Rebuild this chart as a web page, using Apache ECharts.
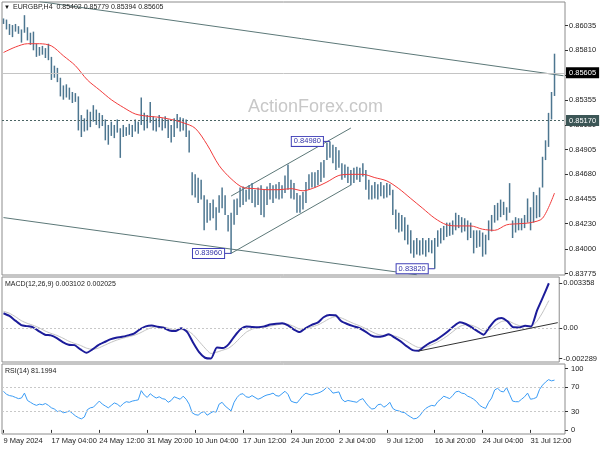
<!DOCTYPE html>
<html><head><meta charset="utf-8">
<script src="https://cdn.jsdelivr.net/npm/echarts@6/dist/echarts.min.js"></script>
<style>html,body{margin:0;padding:0;background:#fff}#c{width:600px;height:450px}</style>
</head><body><div id="c"></div>
<script>
// ---- data (8-hour columns, each column = two H4 bars) ----
const highs = [0.8610,0.8609,0.8605,0.8604,0.8605,0.8603,0.8600,0.8613,0.8602,0.8597,
0.8598,0.8587,0.8584,0.8585,0.8583,0.8587,0.8575,0.8567,0.8565,0.8556,
0.8549,0.8550,0.8547,0.8543,0.8542,0.8539,0.8522,0.8519,0.8527,0.8525,
0.8531,0.8527,0.8524,0.8522,0.8518,0.8513,0.8516,0.8513,0.8518,0.8510,
0.8513,0.8511,0.8514,0.8513,0.8518,0.8516,0.8538,0.8524,0.8522,0.8534,
0.8521,0.8519,0.8522,0.8519,0.8521,0.8518,0.8513,0.8519,0.8523,0.8520,
0.8519,0.8518,0.8508,0.8470,0.8468,0.8465,0.8463,0.8449,0.8445,0.8442,
0.8445,0.8438,0.8449,0.8456,0.8449,0.8431,0.8433,0.8445,0.8446,0.8456,
0.8457,0.8454,0.8458,0.8460,0.8454,0.8456,0.8458,0.8454,0.8457,0.8460,
0.8458,0.8459,0.8461,0.8458,0.8467,0.8477,0.8463,0.8460,0.8451,0.8449,
0.8452,0.8461,0.8468,0.8470,0.8470,0.8472,0.8479,0.8481,0.8497,0.8498,
0.8495,0.8493,0.8490,0.8478,0.8477,0.8475,0.8472,0.8474,0.8475,0.8474,
0.8478,0.8472,0.8463,0.8458,0.8461,0.8459,0.8461,0.8458,0.8460,0.8459,
0.8454,0.8436,0.8433,0.8431,0.8429,0.8422,0.8417,0.8408,0.8410,0.8408,
0.8410,0.8408,0.8410,0.8408,0.8410,0.8417,0.8419,0.8421,0.8424,0.8424,
0.8426,0.8433,0.8431,0.8429,0.8428,0.8426,0.8424,0.8417,0.8417,0.8417,
0.8415,0.8413,0.8426,0.8431,0.8440,0.8442,0.8445,0.8443,0.8438,0.8460,
0.8426,0.8429,0.8428,0.8428,0.8431,0.8446,0.8438,0.8452,0.8449,0.8456,
0.8484,0.8499,0.8524,0.8543,0.85779];
const lows = [0.8605,0.8600,0.8595,0.8593,0.8598,0.8596,0.8588,0.8597,0.8590,0.8586,
0.8581,0.8575,0.8576,0.8577,0.8574,0.8572,0.8554,0.8556,0.8552,0.8539,
0.8536,0.8538,0.8536,0.8533,0.8534,0.8508,0.8502,0.8507,0.8508,0.8511,
0.8516,0.8513,0.8510,0.8512,0.8499,0.8495,0.8503,0.8501,0.8506,0.8483,
0.8502,0.8503,0.8504,0.8502,0.8507,0.8505,0.8513,0.8508,0.8510,0.8515,
0.8508,0.8507,0.8511,0.8508,0.8510,0.8501,0.8497,0.8502,0.8510,0.8507,
0.8508,0.8502,0.8488,0.8449,0.8447,0.8442,0.8445,0.8417,0.8424,0.8426,
0.8428,0.8417,0.8433,0.8437,0.8431,0.8416,0.8396,0.8422,0.8431,0.8438,
0.8440,0.8443,0.8445,0.8442,0.8438,0.8440,0.8431,0.8429,0.8440,0.8445,
0.8442,0.8446,0.8445,0.8446,0.8451,0.8454,0.8446,0.8445,0.8433,0.8433,
0.8436,0.8442,0.8454,0.8456,0.8456,0.8458,0.8461,0.8465,0.8481,0.8483,
0.8478,0.8472,0.8474,0.8463,0.8465,0.8460,0.8458,0.8460,0.8463,0.8461,
0.8466,0.8454,0.8445,0.8445,0.8446,0.8445,0.8448,0.8446,0.8447,0.8449,
0.8431,0.8418,0.8415,0.8416,0.8408,0.8404,0.8396,0.8392,0.8395,0.8394,
0.8395,0.8393,0.8397,0.8396,0.8382,0.8402,0.8405,0.8408,0.8411,0.8412,
0.8413,0.8417,0.8419,0.8415,0.8416,0.8408,0.8410,0.8396,0.8401,0.8402,
0.8393,0.8395,0.8408,0.8416,0.8424,0.8426,0.8429,0.8431,0.8426,0.8433,
0.8410,0.8415,0.8417,0.8417,0.8419,0.8424,0.8417,0.8424,0.8428,0.8429,
0.8456,0.8481,0.8493,0.8518,0.85394];
// moving average, read every 4th column
const maStep = 4;
const maValues = [0.8579,0.8584,0.8587,0.8587,0.8585,0.8576,0.8567,0.8554,0.8545,0.8536,
0.8529,0.8523,0.8521,0.8520,0.8518,0.8515,0.8510,0.8495,0.8476,0.8464,
0.8456,0.8455,0.8454,0.8454,0.8455,0.8453,0.8456,0.8461,0.8467,0.8468,
0.8468,0.8465,0.8462,0.8455,0.8446,0.8437,0.8428,0.8422,0.8421,0.8421,
0.8418,0.8417,0.8422,0.8423,0.8424,0.8428,0.8451];
// MACD main and signal, read every 2nd column
const macdStep = 2;
const macdMain = [0.00110,0.00090,0.00055,0.00022,0.00014,0.00005,-0.00025,-0.00050,-0.00055,-0.00075,
-0.00105,-0.00125,-0.00128,-0.00160,-0.00185,-0.00160,-0.00128,-0.00106,-0.00085,-0.00072,
-0.00066,-0.00055,-0.00042,-0.00010,0.00012,0.00018,0.00010,0.00002,-0.00018,-0.00022,
-0.00002,-0.00030,-0.00110,-0.00180,-0.00222,-0.00228,-0.00145,-0.00150,-0.00120,-0.00060,
-0.00010,0.00012,0.00008,0.00006,0.00012,0.00026,0.00032,0.00036,0.00020,-0.00012,
-0.00030,0.00000,0.00024,0.00040,0.00080,0.00097,0.00095,0.00050,0.00030,0.00014,
0.00000,-0.00025,-0.00055,-0.00066,-0.00062,-0.00047,-0.00072,-0.00100,-0.00135,-0.00165,
-0.00170,-0.00138,-0.00110,-0.00088,-0.00058,-0.00024,0.00015,0.00042,0.00030,0.00005,
-0.00025,-0.00050,0.00008,0.00060,0.00074,0.00050,0.00005,0.00004,0.00016,0.00012,
0.00130,0.00230,0.00334];
const macdSignal = [0.00125,0.00110,0.00085,0.00055,0.00035,0.00020,0.00002,-0.00022,-0.00040,-0.00055,
-0.00075,-0.00098,-0.00115,-0.00130,-0.00150,-0.00160,-0.00150,-0.00130,-0.00110,-0.00092,
-0.00078,-0.00066,-0.00055,-0.00038,-0.00015,0.00003,0.00010,0.00008,-0.00004,-0.00014,
-0.00012,-0.00018,-0.00050,-0.00100,-0.00150,-0.00190,-0.00180,-0.00165,-0.00150,-0.00115,
-0.00070,-0.00030,-0.00008,0.00002,0.00006,0.00014,0.00022,0.00030,0.00028,0.00012,
-0.00008,-0.00006,0.00008,0.00022,0.00045,0.00070,0.00085,0.00075,0.00055,0.00035,
0.00018,-0.00002,-0.00025,-0.00045,-0.00055,-0.00054,-0.00060,-0.00075,-0.00098,-0.00125,
-0.00145,-0.00145,-0.00130,-0.00110,-0.00085,-0.00055,-0.00020,0.00012,0.00025,0.00020,
0.00002,-0.00022,-0.00015,0.00020,0.00048,0.00055,0.00035,0.00018,0.00014,0.00013,
0.00050,0.00120,0.00205];
const rsiValues = [63,58,56,55,53,51,52,60,48,45,
42,40,42,41,43,40,36,34,30,31,
28,29,31,27,23,20,18,21,33,36,
37,42,47,42,39,36,40,44,42,38,
43,46,45,47,48,49,64,57,53,59,
55,52,54,51,50,45,48,54,52,50,
55,50,42,28,25,24,28,30,24,27,
30,29,42,45,39,35,31,45,53,58,
59,54,53,56,53,50,52,55,57,58,
60,56,55,59,63,58,47,45,44,50,
56,60,58,57,59,60,62,65,70,66,
60,61,62,50,46,48,47,46,45,49,
51,44,38,34,35,41,42,37,40,45,
35,32,31,29,28,24,21,18,19,23,
30,35,38,40,39,46,50,55,53,51,
56,62,63,60,59,55,53,50,46,40,
37,35,45,52,65,68,63,62,69,58,
47,46,46,50,54,60,50,51,53,66,
73,78,82,80,81.2];
const columnCount = 188;
const xTickEvery = 16;
const xTickLabels = ['9 May 2024','17 May 04:00','24 May 12:00','31 May 20:00','10 Jun 04:00','17 Jun 12:00','24 Jun 20:00','2 Jul 04:00','9 Jul 12:00','16 Jul 20:00','24 Jul 04:00','31 Jul 12:00'];
const priceTicks = [0.86035,0.85810,0.85580,0.85355,0.85130,0.84905,0.84680,0.84455,0.84230,0.84000,0.83775];
const macdTicks = [0.003358,0,-0.002289];
const macdTickText = ['0.003358','0.00','-0.002289'];
const rsiTicks = [100,70,30,0];
const rsiLevels = [70,30];
const bidPrice = 0.85605;
const levelPrice = 0.85170;
const annotIdx = [76,109,144];
const annotVal = [0.83960,0.84980,0.83820];
const upperChannel = [[12,0.86254],[187,0.85578]];
const lowerChannel = [[0,0.84286],[138,0.83765]];
const riseLower = [[76,0.83960],[116,0.84583]];
const riseUpper = [[76,0.84482],[116,0.85102]];
const macdTrend = [[140,-0.00172],[187,0.00040]];
const headerText = 'EURGBP,H4  0.85402 0.85779 0.85394 0.85605';
const macdText = 'MACD(12,26,9) 0.003102 0.002025';
const rsiText = 'RSI(14) 81.1994';

// ---- chart ----
const FONT = '"Liberation Sans", Arial, sans-serif';
const cats = Array.from({length: columnCount}, (_, i) => String(i));
const chart = echarts.init(document.getElementById('c'), null, {renderer: 'canvas'});
const frame = '#8c8c8c';
const trendColor = '#5c7878';
const grids = [
  {left: 2, top: 2, width: 563, height: 273},
  {left: 2, top: 277, width: 563, height: 85},
  {left: 2, top: 364, width: 563, height: 70}
].map(g => Object.assign(g, {show: true, borderColor: frame, borderWidth: 1, containLabel: false}));

function xAxis(gi, showLabels) {
  return {
    type: 'category', gridIndex: gi, data: cats, boundaryGap: true,
    axisLine: {show: false},
    axisTick: showLabels ? {show: true, alignWithLabel: true, length: 3, interval: i => i % xTickEvery === 0, lineStyle: {color: '#333'}} : {show: false},
    axisLabel: showLabels ? {show: true, interval: i => i % xTickEvery === 0, formatter: (v, i) => xTickLabels[i / xTickEvery] || '',
      align: 'left', fontSize: 7.5, fontFamily: FONT, color: '#222', margin: 3} : {show: false},
    splitLine: {show: false}
  };
}
function yAxis(gi, min, max, ticks, fmt, showLabels) {
  return {
    type: 'value', gridIndex: gi, position: 'right', min: min, max: max,
    axisLine: {show: false}, splitLine: {show: false},
    axisTick: {show: true, length: 3, customValues: ticks, lineStyle: {color: '#333'}},
    axisLabel: {show: showLabels, customValues: ticks, formatter: fmt, fontSize: 7.5, fontFamily: FONT, color: '#222', margin: 4,
      showMinLabel: true, showMaxLabel: true, hideOverlap: false}
  };
}

const series = [];
// price bars
series.push({
  type: 'custom', xAxisIndex: 0, yAxisIndex: 0, clip: true, z: 3,
  data: highs.map((h, i) => [i, lows[i], h]),
  encode: {x: 0, y: [1, 2]},
  renderItem: (params, api) => {
    const lo = api.coord([api.value(0), api.value(1)]);
    const hi = api.coord([api.value(0), api.value(2)]);
    return {type: 'line', shape: {x1: lo[0], y1: lo[1], x2: hi[0], y2: hi[1]},
      style: {stroke: '#4d7690', lineWidth: 1.5}};
  }
});
// MA with horizontal price levels
series.push({
  type: 'line', xAxisIndex: 0, yAxisIndex: 0, smooth: 0.3, symbol: 'none', z: 4,
  data: maValues.map((v, k) => [k * maStep, v]),
  lineStyle: {color: '#f23c3c', width: 1},
  markLine: {
    silent: true, symbol: ['none', 'none'], animation: false, precision: 5,
    data: [
      {yAxis: bidPrice, lineStyle: {color: '#c4c4c4', width: 1, type: 'solid'},
        label: {show: true, position: 'end', formatter: bidPrice.toFixed(5), distance: 1, backgroundColor: '#000', color: '#fff',
          padding: [2, 3, 1, 3], fontSize: 7.5, fontFamily: FONT}},
      {yAxis: levelPrice, lineStyle: {color: '#4a6464', width: 1, type: [2, 2]},
        label: {show: true, position: 'end', formatter: levelPrice.toFixed(5), distance: 1, backgroundColor: '#3c5656', color: '#fff',
          padding: [2, 3, 1, 3], fontSize: 7.5, fontFamily: FONT}}
    ]
  }
});
// trend lines
[upperChannel, lowerChannel, riseLower, riseUpper].forEach(d => series.push({
  type: 'line', xAxisIndex: 0, yAxisIndex: 0, symbol: 'none', clip: true, z: 2, data: d,
  lineStyle: {color: trendColor, width: 1}
}));
// swing annotations
series.push({
  type: 'custom', xAxisIndex: 0, yAxisIndex: 0, clip: false, z: 6,
  data: annotIdx.map((ix, k) => [ix, annotVal[k]]),
  renderItem: (params, api) => {
    const p = api.coord([api.value(0), api.value(1)]);
    return {type: 'group', children: [
      {type: 'line', shape: {x1: p[0] - 7, y1: p[1], x2: p[0], y2: p[1]}, style: {stroke: '#3a3ab0', lineWidth: 1}},
      {type: 'text', x: p[0] - 7, y: p[1], style: {text: annotVal[params.dataIndex].toFixed(5), align: 'right', verticalAlign: 'middle',
        font: '7.5px ' + FONT, fill: '#3232a8', backgroundColor: '#fff', borderColor: '#4040b8', borderWidth: 1, padding: [1, 2, 0, 2]}}
    ]};
  }
});
// MACD
series.push({
  type: 'line', xAxisIndex: 1, yAxisIndex: 1, symbol: 'none', smooth: 0.2, z: 3,
  data: macdSignal.map((v, k) => [k * macdStep, v]),
  lineStyle: {color: '#c2c2c2', width: 1}
});
series.push({
  type: 'line', xAxisIndex: 1, yAxisIndex: 1, symbol: 'none', smooth: 0.2, z: 4,
  data: macdMain.map((v, k) => [k * macdStep, v]),
  lineStyle: {color: '#1c1c9a', width: 2},
  markLine: {silent: true, symbol: ['none', 'none'], animation: false, label: {show: false}, precision: 6,
    data: [{yAxis: 0, lineStyle: {color: '#c8c8c8', width: 1, type: [2, 2]}}]}
});
series.push({
  type: 'line', xAxisIndex: 1, yAxisIndex: 1, symbol: 'none', z: 5, data: macdTrend,
  lineStyle: {color: '#333', width: 1}
});
// RSI with 70/30 levels
series.push({
  type: 'line', xAxisIndex: 2, yAxisIndex: 2, symbol: 'none', z: 4,
  data: rsiValues,
  lineStyle: {color: '#3a9cf6', width: 1},
  markLine: {silent: true, symbol: ['none', 'none'], animation: false, precision: 2, label: {show: false},
    data: rsiLevels.map(v => ({yAxis: v, lineStyle: {color: '#c8c8c8', width: 1, type: [2, 2]}}))}
});

const txt = (left, top, text, font, fill, z) => ({type: 'text', left: left, top: top, z: z || 10,
  style: {text: text, font: font, fill: fill}});

chart.setOption({
  animation: false,
  backgroundColor: '#fff',
  grid: grids,
  xAxis: [xAxis(0, false), xAxis(1, false), xAxis(2, true)],
  yAxis: [
    yAxis(0, 0.83763, 0.86250, priceTicks, v => v.toFixed(5), true),
    yAxis(1, -0.002537, 0.003806, macdTicks, v => macdTickText[macdTicks.indexOf(v)] || '', true),
    yAxis(2, -6.7, 107.5, rsiTicks, v => String(v), false)
  ],
  graphic: [
    txt(4, 4, '\u25BC', '6px ' + FONT, '#111'),
    txt(13, 4, headerText, '7px ' + FONT, '#222'),
    txt(5, 281, macdText, '7px ' + FONT, '#222'),
    txt(5, 368, rsiText, '7px ' + FONT, '#222'),
    {type: 'text', left: 248, top: 98, z: 0, style: {text: 'ActionForex.com', font: '18px ' + FONT, fill: '#c8c8c8'}}
  ],
  series: series
});

// RSI scale labels, positioned through the RSI axis scale
const rsiRight = chart.convertToPixel({xAxisIndex: 2}, columnCount - 1) + 3;
const rsiLabelEls = rsiTicks.map(v => {
  const y = chart.convertToPixel({yAxisIndex: 2}, v);
  return {type: 'text', x: 571, y: y, z: 10,
    style: {text: String(v), font: '7.5px ' + FONT, fill: '#222', verticalAlign: 'middle', align: 'left'}};
});
chart.setOption({graphic: rsiLabelEls.map((e, i) => Object.assign({id: 'rsiLab' + i}, e))});
</script></body></html>
